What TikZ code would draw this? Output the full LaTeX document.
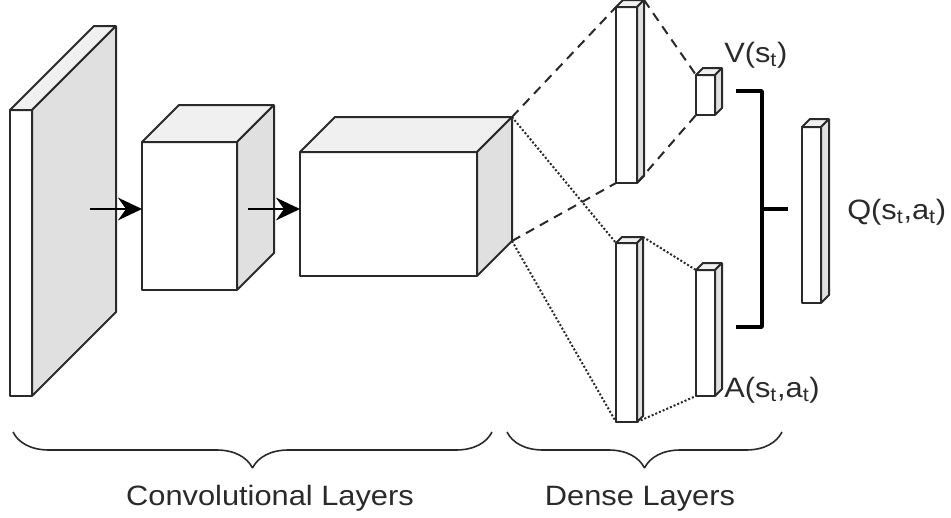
\documentclass[tikz,border=0pt]{standalone}
\usepackage{fontspec}
\setmainfont{Liberation Sans}[FakeStretch=1.1]
\usetikzlibrary{arrows.meta,calc,decorations.pathreplacing}
\definecolor{sidegray}{HTML}{E0E0E0}
\definecolor{topgray}{HTML}{F0F0F0}
\definecolor{edgegray}{HTML}{2A2A2A}

% front face as a node, top and right faces drawn from its anchors
\newcommand{\layerbox}[6]{%
  \node (#1) at (#2,#3) [frontside,anchor=north west,minimum width=#4*0.75pt,minimum height=#5*0.75pt] {};
  \draw [topside] (#1.north west) -- ++(#6,-#6) -- ++(#4,0) -- (#1.north east) -- cycle;
  \draw [rightside] (#1.north east) -- ++(#6,-#6) -- ++(0,#5) -- (#1.south east) -- cycle;
  \coordinate (#1_tr) at ($(#1.north east)+(#6,-#6)$);
  \coordinate (#1_br) at ($(#1.south east)+(#6,-#6)$);
}

\begin{document}
\begin{tikzpicture}[x=0.75pt,y=-0.75pt,line join=bevel,
  frontside/.style={draw=edgegray,fill=white,line width=1.5pt,inner sep=0pt,outer sep=0pt},
  topside/.style={draw=edgegray,fill=topgray,line width=1.5pt},
  rightside/.style={draw=edgegray,fill=sidegray,line width=1.5pt},
  flow/.style={draw=black,line width=1.5pt,-{Stealth[length=18pt,width=17pt,inset=6pt]}},
  dashline/.style={draw=edgegray,line width=1.5pt,dash pattern=on 7pt off 5pt},
  dotline/.style={draw=edgegray,line width=1.5pt,dash pattern=on 1.5pt off 1.5pt},
  merge/.style={draw=black,line width=3pt},
  group/.style={draw=edgegray,line width=1.2pt,decorate,decoration={brace,mirror,amplitude=27pt}},
  texttag/.style={font=\fontsize{21}{25}\selectfont,text=edgegray,inner sep=0pt}]
\useasboundingbox (0,0) rectangle (951,518);
%%
\layerbox{node_0}{10}{110}{22}{286}{84}
\layerbox{node_1}{142}{142}{95}{148}{37}
\layerbox{node_2}{300}{152}{177}{124}{35}
\layerbox{node_3}{616}{7}{21}{176}{7}
\layerbox{node_4}{616}{243}{21}{179}{6}
\layerbox{node_5}{696}{75}{19}{40}{7}
\layerbox{node_6}{696}{270}{19}{126}{7}
\layerbox{node_7}{802}{127}{19}{176}{8}
%
\coordinate (a_0) at (90,209);
\coordinate (a_1) at (248,209);
\draw [flow] (a_0) -- (a_0 -| node_1.west);
\draw [flow] (a_1) -- (a_1 -| node_2.west);
%
\draw [dashline] (node_2_tr) -- (node_3.north west);
\draw [dashline] (node_2_br) -- (node_3.south west);
\draw [dotline] (node_2_tr) -- (node_4.north west);
\draw [dotline] (node_2_br) -- (node_4.south west);
\draw [dashline] (node_3_tr) -- (node_5.north west);
\draw [dashline] (node_3.south east) -- (node_5.south west);
\draw [dotline] (node_4_tr) -- (node_6.north west);
\draw [dotline] (node_4.south east) -- (node_6.south west);
%
\coordinate (m_0) at (736,91);
\coordinate (m_1) at (762,91);
\coordinate (m_2) at (762,327);
\coordinate (m_3) at (736,327);
\coordinate (m_4) at (762,209);
\coordinate (m_5) at (788,209);
\draw [merge] (m_0) -- (m_1) -- (m_2) -- (m_3);
\draw [merge] (m_4) -- (m_5);
%
\node (node_8) at (724,62) [texttag,anchor=base west] {V(s\textsubscript{t})};
\node (node_9) at (847,219) [texttag,anchor=base west] {Q(s\textsubscript{t},a\textsubscript{t})};
\node (node_10) at (724,397) [texttag,anchor=base west] {A(s\textsubscript{t},a\textsubscript{t})};
%
\coordinate (b_0) at (13,432);
\coordinate (b_1) at (492,432);
\coordinate (b_2) at (507,432);
\coordinate (b_3) at (782,432);
\draw [group] (b_0) -- (b_1);
\draw [group] (b_2) -- (b_3);
\node (node_11) at (270,505) [texttag,anchor=base] {Convolutional Layers};
\node (node_12) at (640,505) [texttag,anchor=base] {Dense Layers};
%
\end{tikzpicture}
\end{document}
